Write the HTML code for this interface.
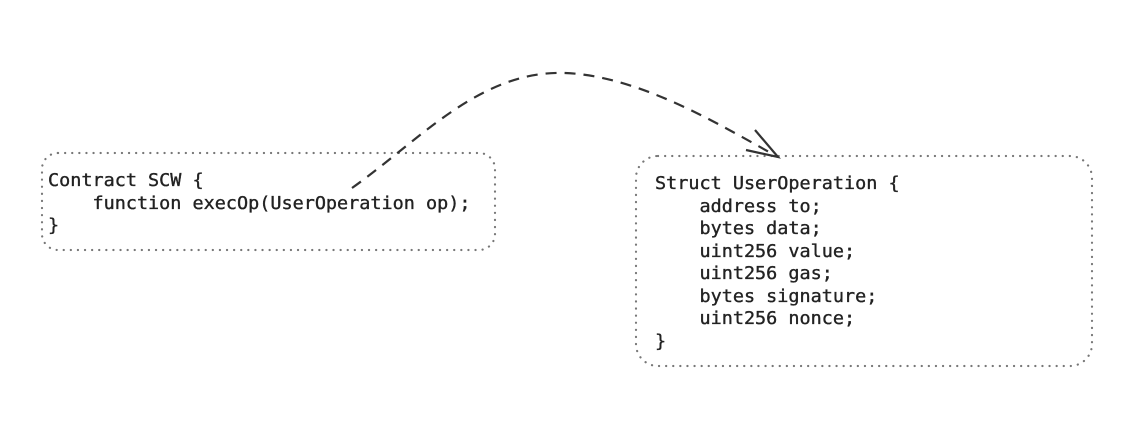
<!DOCTYPE html>
<html><head><style>
html,body{margin:0;padding:0;background:#fff;}
svg text{font-family:"DejaVu Sans Mono","Liberation Mono",monospace;font-size:17.6px;fill:#222;stroke:#222;stroke-width:0.35;white-space:pre;}
</style></head><body>
<svg width="1130" height="440" viewBox="0 0 1130 440" xmlns="http://www.w3.org/2000/svg">
<rect x="42" y="153" width="453" height="97" rx="16" fill="none" stroke="#777" stroke-width="2.2" stroke-dasharray="0.1 7" stroke-linecap="round"/>
<rect x="636" y="156" width="456" height="210" rx="22" fill="none" stroke="#777" stroke-width="2.2" stroke-dasharray="0.1 7" stroke-linecap="round"/>
<g transform="translate(48,0) scale(1.05,1)">
<text x="0" y="186">Contract SCW {</text>
<text x="0" y="209">    function execOp(UserOperation op);</text>
<text x="0" y="231">}</text>
</g>
<g transform="translate(655,0) scale(1.05,1)">
<text x="0" y="189">Struct UserOperation {</text>
<text x="0" y="212">    address to;</text>
<text x="0" y="234">    bytes data;</text>
<text x="0" y="257">    uint256 value;</text>
<text x="0" y="279">    uint256 gas;</text>
<text x="0" y="302">    bytes signature;</text>
<text x="0" y="324">    uint256 nonce;</text>
<text x="0" y="347">}</text>
</g>
<path d="M352,188 C420,140 480,70 565,73 C640,76 720,125 778,157" fill="none" stroke="#333" stroke-width="2.2" stroke-dasharray="11 8"/>
<path d="M755,130 L778,157 L746,150" fill="none" stroke="#333" stroke-width="2.2"/>
</svg>
</body></html>
